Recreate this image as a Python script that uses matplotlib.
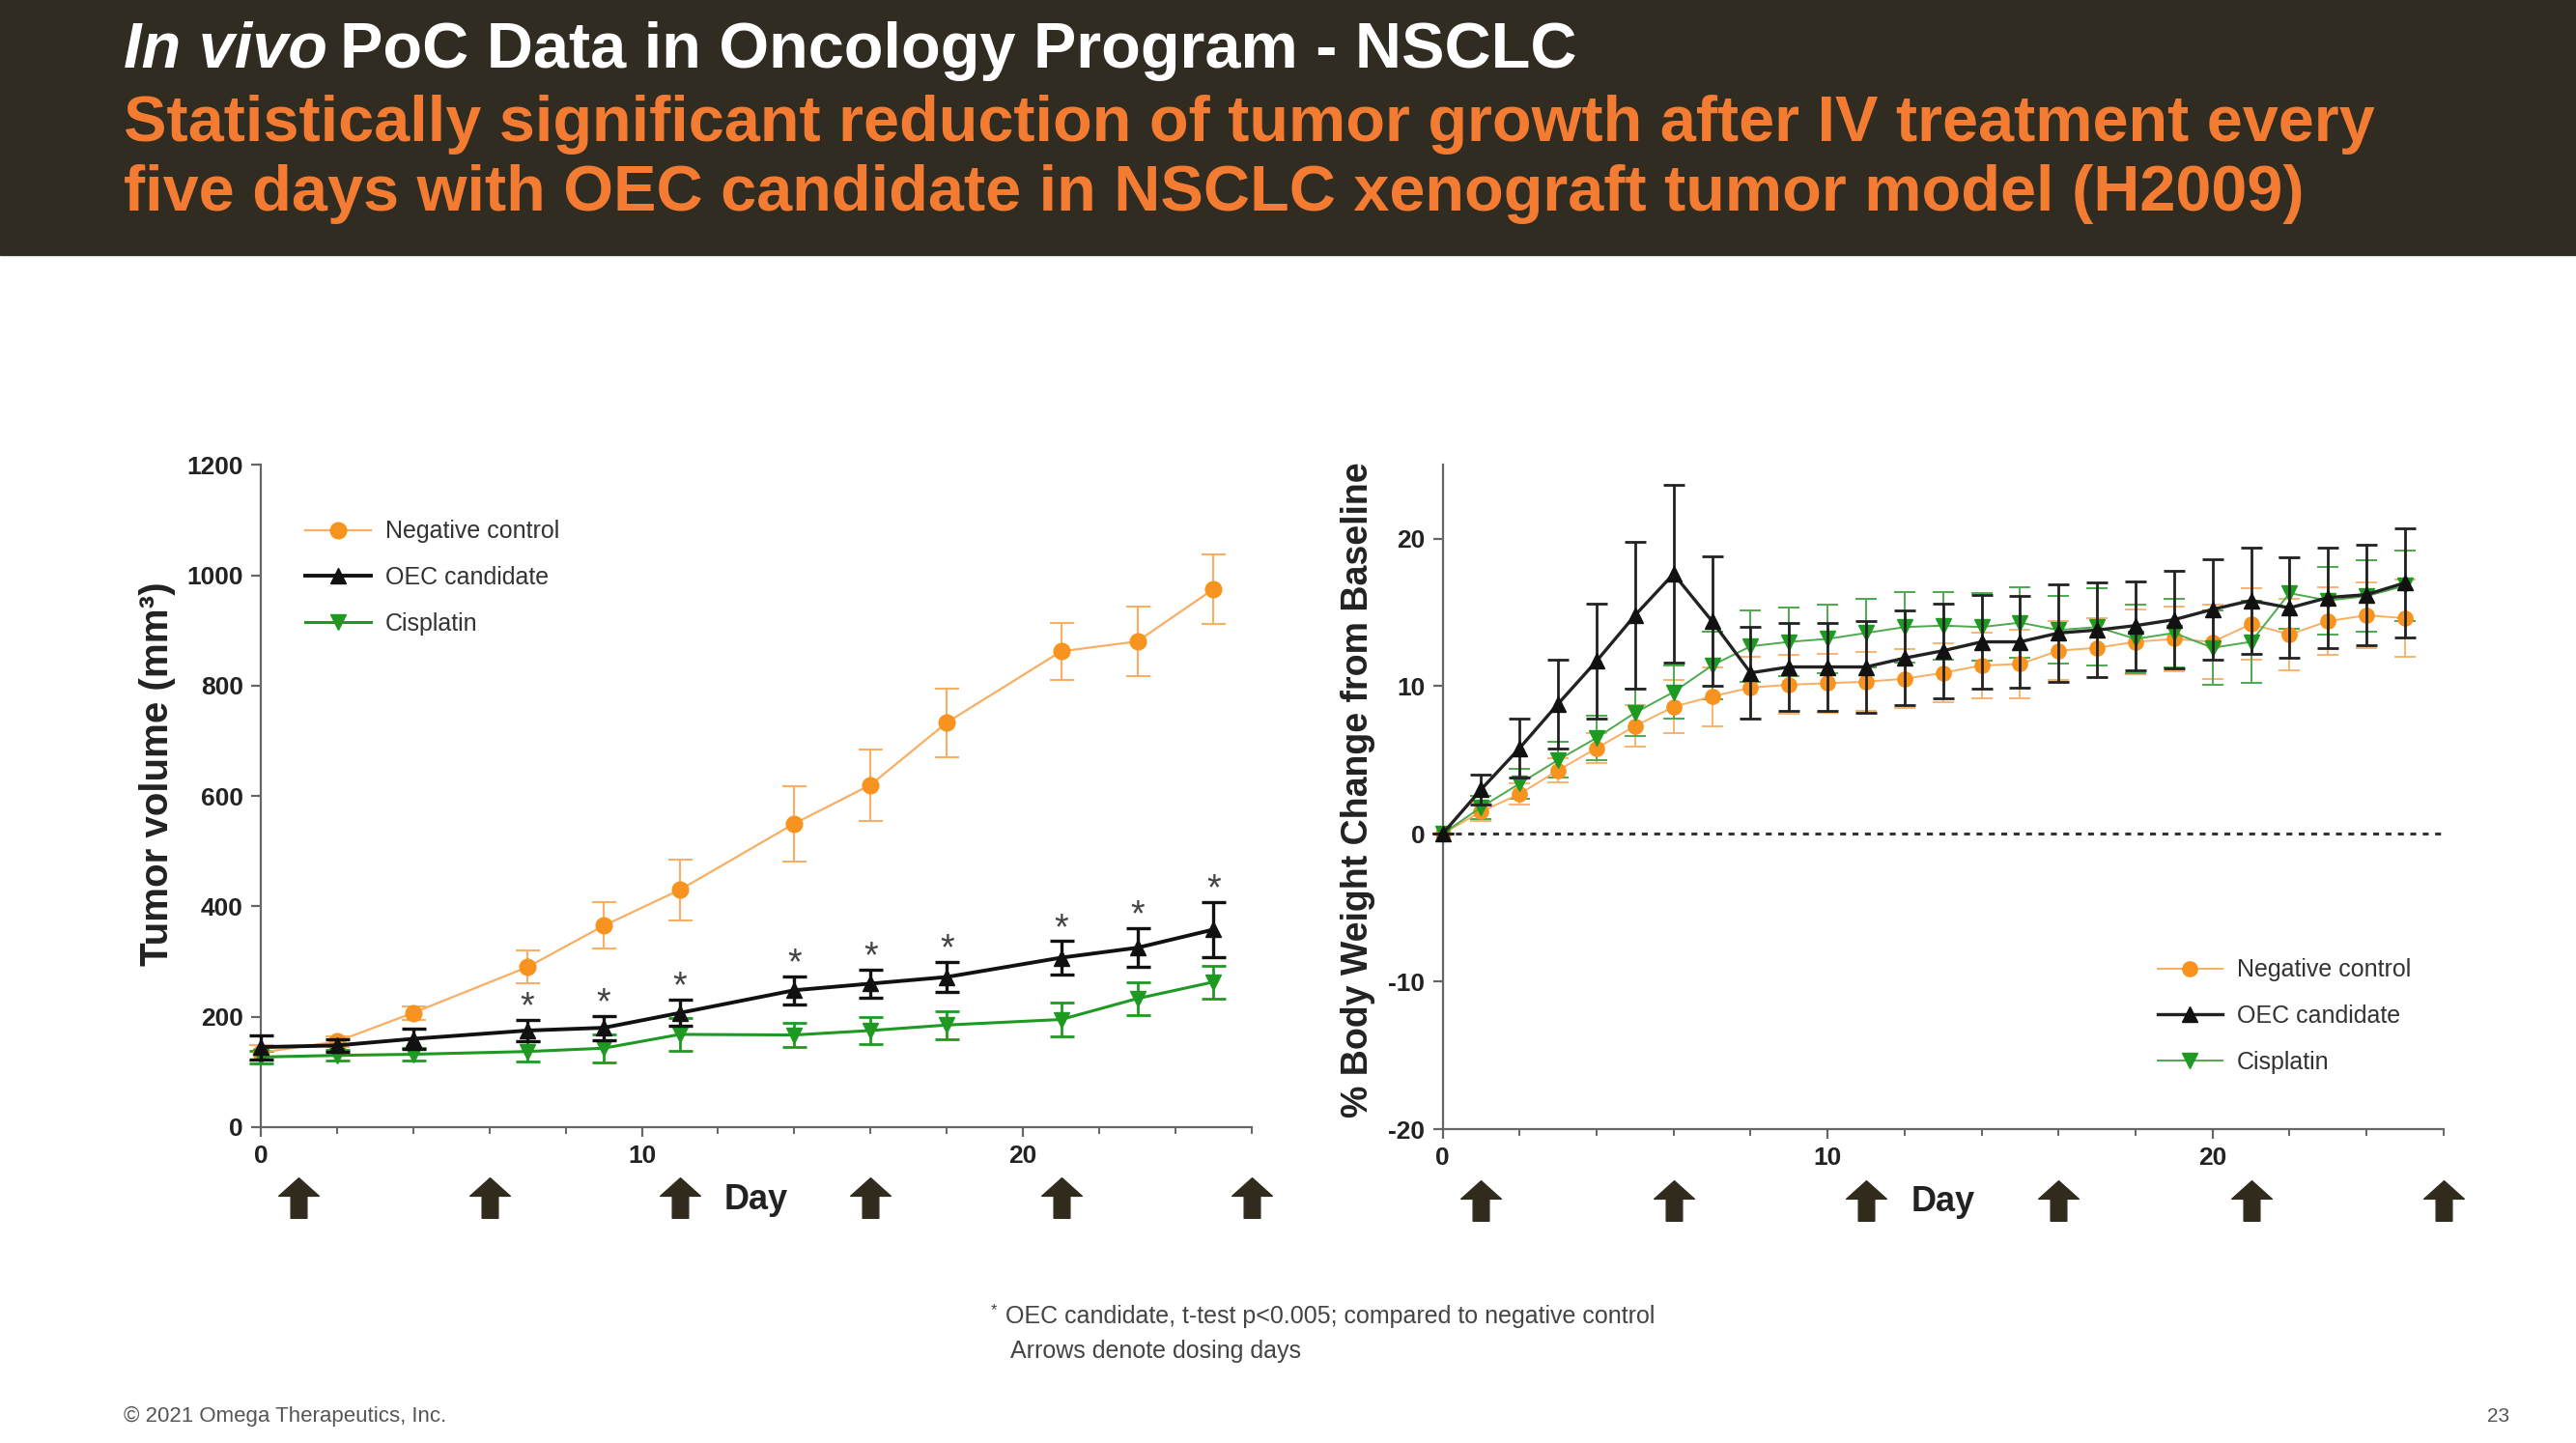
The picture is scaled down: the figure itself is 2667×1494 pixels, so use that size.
import matplotlib
matplotlib.use("Agg")
import matplotlib.pyplot as plt
from matplotlib.path import Path
from matplotlib.patches import Rectangle
from matplotlib.transforms import blended_transform_factory
import numpy as np

plt.rcParams['font.family'] = ['Liberation Sans', 'DejaVu Sans']
plt.rcParams['axes.unicode_minus'] = False

# --- data ---
SERIES = ['Negative control', 'OEC candidate', 'Cisplatin']

# tumor volume (mm3)
vol_days = [0, 2, 4, 7, 9, 11, 14, 16, 18, 21, 23, 25]
vol_neg = [135, 155, 207, 290, 365, 430, 550, 620, 733, 862, 880, 975]
vol_neg_err = [14, 10, 12, 30, 42, 55, 68, 65, 62, 52, 63, 63]
vol_oec = [145, 148, 160, 175, 180, 207, 248, 260, 272, 307, 325, 358]
vol_oec_err = [22, 12, 18, 20, 22, 24, 25, 25, 27, 30, 35, 50]
vol_cis = [127, 130, 132, 137, 143, 168, 167, 175, 185, 195, 233, 263]
vol_cis_err = [12, 10, 12, 18, 25, 30, 22, 25, 25, 30, 30, 30]
star_days = [7, 9, 11, 14, 16, 18, 21, 23, 25]

# body weight change (%)
wt_days = list(range(26))
wt_neg = [0, 1.5, 2.7, 4.3, 5.8, 7.3, 8.6, 9.3, 9.9, 10.1, 10.2, 10.3, 10.5,
          10.9, 11.4, 11.5, 12.4, 12.6, 13.0, 13.2, 13.0, 14.2, 13.5, 14.4, 14.8, 14.6]
wt_neg_err = [0, 0.6, 0.7, 0.8, 1.0, 1.4, 1.8, 2.0, 2.1, 2.0, 2.0, 2.0, 2.0,
              2.0, 2.2, 2.3, 2.0, 2.0, 2.2, 2.2, 2.5, 2.4, 2.4, 2.3, 2.2, 2.6]
wt_oec = [0, 3.0, 5.8, 8.8, 11.7, 14.8, 17.6, 14.4, 10.9, 11.3, 11.3, 11.3, 11.9,
          12.4, 13.0, 13.0, 13.6, 13.8, 14.1, 14.5, 15.2, 15.8, 15.3, 16.0, 16.2, 17.0]
wt_oec_err = [0, 1.0, 2.0, 3.0, 3.9, 5.0, 6.0, 4.4, 3.1, 3.0, 3.0, 3.1, 3.2,
              3.2, 3.2, 3.1, 3.3, 3.2, 3.0, 3.3, 3.4, 3.6, 3.4, 3.4, 3.4, 3.7]
wt_cis = [0, 1.8, 3.4, 5.0, 6.5, 8.2, 9.6, 11.4, 12.7, 13.0, 13.2, 13.6, 14.0,
          14.1, 14.0, 14.3, 13.8, 14.0, 13.2, 13.6, 12.6, 13.0, 16.3, 15.8, 16.1, 16.8]
wt_cis_err = [0, 0.8, 1.0, 1.2, 1.5, 1.6, 1.8, 2.3, 2.4, 2.3, 2.3, 2.3, 2.4,
              2.3, 2.3, 2.4, 2.3, 2.6, 2.3, 2.3, 2.5, 2.8, 2.4, 2.3, 2.4, 2.4]

dose_days = [1, 6, 11, 16, 21, 26]

ORANGE = '#F7931E'
ORANGE_LN = '#F9AE62'
BLACK = '#111111'
GREEN = '#1E9A22'
BROWN = '#302B1C'
AXIS = '#666666'

# thick up arrow used for dosing days
arrow = Path([(-0.5, 0.05), (0, 0.5), (0.5, 0.05), (0.2, 0.05), (0.2, -0.5),
              (-0.2, -0.5), (-0.2, 0.05), (-0.5, 0.05)],
             [Path.MOVETO] + [Path.LINETO] * 6 + [Path.CLOSEPOLY])

fig = plt.figure(figsize=(26.67, 14.94), dpi=100)

# header band
fig.patches.append(Rectangle((0, 0.823), 1, 0.177, transform=fig.transFigure,
                             color='#312C21', zorder=0))
r = fig.canvas.get_renderer()
t1 = fig.text(0.048, 1 - 70 / 1494, 'In vivo', color='white', fontsize=48,
              fontweight='bold', fontstyle='italic', va='baseline')
bb = t1.get_window_extent(renderer=r)
fig.text(bb.x1 / fig.bbox.width + 0.005, 1 - 70 / 1494,
         'PoC Data in Oncology Program - NSCLC', color='white', fontsize=48,
         fontweight='bold', va='baseline')
fig.text(0.048, 1 - 146 / 1494,
         'Statistically significant reduction of tumor growth after IV treatment every',
         color='#F47C32', fontsize=48, fontweight='bold', va='baseline')
fig.text(0.048, 1 - 218 / 1494,
         'five days with OEC candidate in NSCLC xenograft tumor model (H2009)',
         color='#F47C32', fontsize=48, fontweight='bold', va='baseline')


def style_axes(ax, ylim, yticks):
    ax.set_xlim(0, 26)
    ax.set_ylim(*ylim)
    ax.set_yticks(yticks)
    ax.set_xticks([0, 10, 20])
    ax.set_xticks(np.arange(0, 27, 2), minor=True)
    for s in ['top', 'right']:
        ax.spines[s].set_visible(False)
    for s in ['left', 'bottom']:
        ax.spines[s].set_color(AXIS)
        ax.spines[s].set_linewidth(1.6)
    ax.tick_params(which='major', length=7, width=1.6, color=AXIS,
                   labelsize=19, labelcolor='#222222', pad=6)
    ax.tick_params(which='minor', length=5, width=1.4, color=AXIS)
    for lab in ax.get_xticklabels() + ax.get_yticklabels():
        lab.set_fontweight('bold')
    tr = blended_transform_factory(ax.transData, ax.transAxes)
    ax.plot(dose_days, [-0.107] * len(dose_days), transform=tr, ls='none',
            marker=arrow, markersize=30, color=BROWN, clip_on=False)
    ax.text(13, -0.11, 'Day', transform=tr, ha='center', va='center',
            fontsize=26, fontweight='bold', color='#222222')


def add_legend(ax, conts, anchor):
    ax.legend([c[0] for c in conts], SERIES, loc='upper left',
              bbox_to_anchor=anchor, frameon=False, fontsize=18,
              handlelength=2.7, handletextpad=0.6, labelspacing=0.95,
              borderpad=0, labelcolor='#333333')


# --- left: tumor volume ---
ax1 = fig.add_axes([0.1012, 0.2189, 0.3847, 0.459])
style_axes(ax1, (0, 1200), [0, 200, 400, 600, 800, 1000, 1200])
c1 = ax1.errorbar(vol_days, vol_neg, yerr=vol_neg_err, color=ORANGE_LN, lw=1.6,
                  elinewidth=1.5, capsize=9, capthick=1.5, marker='o', ms=12,
                  mfc=ORANGE, mec=ORANGE, clip_on=False, zorder=3)
c2 = ax1.errorbar(vol_days, vol_oec, yerr=vol_oec_err, color=BLACK, lw=2.8,
                  elinewidth=2.4, capsize=9, capthick=2.4, marker='^', ms=12,
                  clip_on=False, zorder=4)
c3 = ax1.errorbar(vol_days, vol_cis, yerr=vol_cis_err, color=GREEN, lw=2.2,
                  elinewidth=2.0, capsize=9, capthick=2.0, marker='v', ms=12,
                  clip_on=False, zorder=3)
for d in star_days:
    i = vol_days.index(d)
    ax1.text(d, vol_oec[i] + vol_oec_err[i] + 22, '*', ha='center', va='center',
             fontsize=27, color='#444444')
ax1.set_ylabel('Tumor volume (mm³)', fontsize=29, fontweight='bold', color='#222222')
ax1.yaxis.set_label_coords(-0.086, 0.533)
add_legend(ax1, [c1, c2, c3], (0.033, 0.935))

# --- right: body weight ---
ax2 = fig.add_axes([0.560, 0.2175, 0.3886, 0.4605])
style_axes(ax2, (-20, 25), [-20, -10, 0, 10, 20])
ax2.axhline(0, color='#333333', lw=2.2, ls=(0, (2, 2.2)), zorder=1)
d1 = ax2.errorbar(wt_days, wt_neg, yerr=wt_neg_err, color=ORANGE_LN, lw=1.4,
                  elinewidth=1.3, capsize=8, capthick=1.3, marker='o', ms=11,
                  mfc=ORANGE, mec=ORANGE, clip_on=False, zorder=3)
d2 = ax2.errorbar(wt_days, wt_oec, yerr=wt_oec_err, color='#222222', lw=2.4,
                  elinewidth=2.0, capsize=8, capthick=2.0, marker='^', ms=11,
                  mfc=BLACK, mec=BLACK, clip_on=False, zorder=4)
d3 = ax2.errorbar(wt_days, wt_cis, yerr=wt_cis_err, color='#4DAA4D', lw=1.4,
                  elinewidth=1.4, capsize=8, capthick=1.4, marker='v', ms=11,
                  mfc=GREEN, mec=GREEN, clip_on=False, zorder=3)
ax2.set_ylabel('% Body Weight Change from Baseline', fontsize=27,
               fontweight='bold', color='#222222')
ax2.yaxis.set_label_coords(-0.067, 0.51)
add_legend(ax2, [d1, d2, d3], (0.702, 0.275))

# --- footnotes ---
fig.text(1026 / 2667, 1 - 1357 / 1494, '*', fontsize=12, color='#444444', va='center')
fig.text(1041 / 2667, 1 - 1363 / 1494,
         'OEC candidate, t-test p<0.005; compared to negative control',
         fontsize=18, color='#444444', va='center')
fig.text(1046 / 2667, 1 - 1399 / 1494, 'Arrows denote dosing days',
         fontsize=18, color='#444444', va='center')
fig.text(128 / 2667, 1 - 1466 / 1494, '© 2021 Omega Therapeutics, Inc.',
         fontsize=16, color='#555555', va='center')
fig.text(2587 / 2667, 1 - 1466 / 1494, '23', fontsize=15, color='#555555',
         va='center', ha='center')

fig.savefig('out.png', dpi=100)
